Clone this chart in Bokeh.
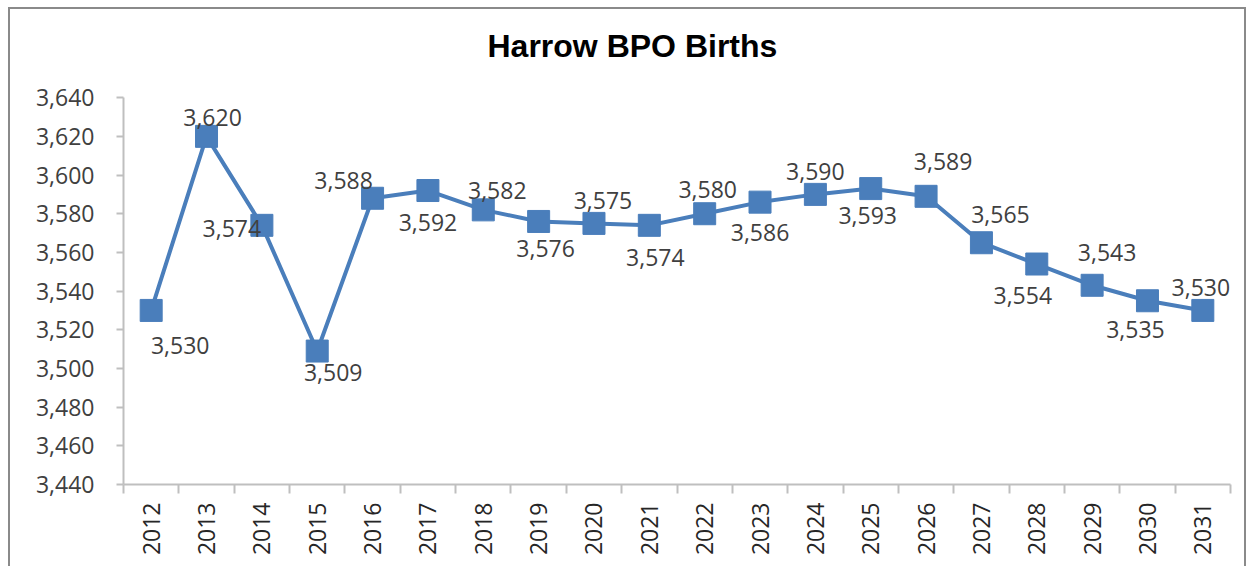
import math
from bokeh.plotting import figure
from bokeh.models import ColumnDataSource, FixedTicker, NumeralTickFormatter, Range1d, Label
from bokeh.core.properties import value
from bokeh.embed import file_html
from bokeh.resources import INLINE

# ---- data ----
years = ["2012", "2013", "2014", "2015", "2016", "2017", "2018", "2019", "2020", "2021",
         "2022", "2023", "2024", "2025", "2026", "2027", "2028", "2029", "2030", "2031"]
births = [3530, 3620, 3574, 3509, 3588, 3592, 3582, 3576, 3575, 3574,
          3580, 3586, 3590, 3593, 3589, 3565, 3554, 3543, 3535, 3530]
y_ticks = [3440, 3460, 3480, 3500, 3520, 3540, 3560, 3580, 3600, 3620, 3640]
title_text = "Harrow BPO Births"

# ---- label placement (screen px offsets, style only) ----
label_dx = [29, 6, -30, 16, -29, 0, 14, 7, 9, 6, 3, 0, 0, -3, 17, 19, -14, 15, -12, -2]
label_dy = [35, -19, 3, 21, -18, 32, -19, 27, -23, 32, -24, 30, -23, 27, -35, -28, 31, -33, 29, -23]

xs = list(range(len(years)))
src = ColumnDataSource(dict(
    x=xs, y=births,
    lab=[f"{v:,}" for v in births],
    dx=label_dx, dy=label_dy,
))

BLUE = "#4A7EBB"
TXT = "#404040"
FONT = "Open Sans"

# layout: plot frame reaches the top of the chart box so the title can sit inside it;
# the value axis itself spans 386 px of the 474 px frame.
FRAME_H = 474
AXIS_H = 386
y_lo, y_hi = y_ticks[0], y_ticks[-1]
y_top = y_lo + (y_hi - y_lo) * FRAME_H / AXIS_H

p = figure(width=1238, height=559, output_backend="svg", toolbar_location=None,
           x_range=Range1d(-0.5, len(years) - 0.5), y_range=Range1d(y_lo, y_top),
           min_border_left=113, min_border_right=18, min_border_top=0, min_border_bottom=84)
p.margin = (7, 2, 0, 8)
p.styles = {"border-top": "2px solid #8a8a8a", "border-left": "2px solid #8a8a8a",
            "border-right": "2px solid #8a8a8a", "box-sizing": "border-box"}

# chart title (screen units, relative to the plot frame)
p.add_layout(Label(x=364, y=AXIS_H + 53, x_units="screen", y_units="screen", text=title_text,
                   text_font="Liberation Sans", text_font_style="bold",
                   text_font_size="32px", text_color="#000000",
                   text_align="left", text_baseline="alphabetic"))

p.outline_line_color = None
p.xgrid.grid_line_color = None
p.ygrid.grid_line_color = None
p.background_fill_color = "white"
p.border_fill_color = "white"

# y axis
ya = p.yaxis[0]
ya.bounds = (y_lo, y_hi)
ya.ticker = FixedTicker(ticks=y_ticks, minor_ticks=[])
ya.formatter = NumeralTickFormatter(format="0,0")
ya.axis_line_color = "#BFBFBF"
ya.axis_line_width = 2
ya.major_tick_line_color = "#BFBFBF"
ya.major_tick_line_width = 2
ya.major_tick_out = 7
ya.major_tick_in = 0
ya.minor_tick_line_color = None
ya.major_label_standoff = 22
ya.major_label_text_font = FONT
ya.major_label_text_font_size = "23px"
ya.major_label_text_color = TXT

# x axis: labels at centres, ticks at category boundaries
xa = p.xaxis[0]
xa.ticker = FixedTicker(ticks=xs, minor_ticks=[i - 0.5 for i in range(len(years) + 1)])
xa.major_label_overrides = {i: y for i, y in enumerate(years)}
xa.major_label_orientation = math.pi / 2
xa.axis_line_color = "#BFBFBF"
xa.axis_line_width = 2
xa.major_tick_line_color = None
xa.major_tick_out = 0
xa.major_tick_in = 0
xa.minor_tick_line_color = "#BFBFBF"
xa.minor_tick_line_width = 2
xa.minor_tick_out = 9
xa.minor_tick_in = 0
xa.major_label_standoff = 9
xa.major_label_text_font = FONT
xa.major_label_text_font_size = "23px"
xa.major_label_text_color = "#262626"

p.line("x", "y", source=src, line_color=BLUE, line_width=4)
p.scatter("x", "y", source=src, marker="square", size=22, fill_color=BLUE, line_color=BLUE)
p.text("x", "y", text="lab", source=src, x_offset="dx", y_offset="dy",
       text_align="center", text_baseline="middle",
       text_font=value(FONT), text_font_size="23px", text_color=TXT)

open("out.html", "w").write(file_html(p, INLINE))
